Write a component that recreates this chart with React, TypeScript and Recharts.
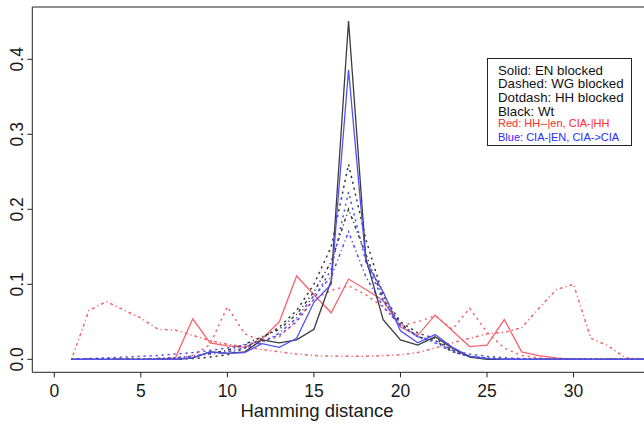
import React from "react";
import { LineChart, Line, XAxis, YAxis, ReferenceLine } from "recharts";

const hamming = [1,2,3,4,5,6,7,8,9,10,11,12,13,14,15,16,17,18,19,20,21,22,23,24,25,26,27,28,29,30,31,32,33,34,35];

const blackSolid =   [0,0,0,0,0,0,0,0.002,0.01,0.008,0.01,0.026,0.022,0.026,0.04,0.105,0.451,0.135,0.053,0.026,0.019,0.03,0.015,0.003,0,0,0,0,0,0,0,0,0,0,0];
const blackDash =    [0,0,0,0,0,0,0,0.001,0.003,0.006,0.015,0.028,0.043,0.065,0.1,0.15,0.26,0.16,0.085,0.05,0.035,0.028,0.012,0.004,0.001,0,0,0,0,0,0,0,0,0,0];
const blackDotdash = [0,0,0,0,0,0.001,0.002,0.004,0.008,0.012,0.02,0.03,0.04,0.06,0.09,0.13,0.2,0.14,0.08,0.048,0.03,0.025,0.01,0.004,0.001,0,0,0,0,0,0,0,0,0,0];
const redSolid =     [0,0,0,0,0,0,0.002,0.054,0.022,0.018,0.016,0.027,0.05,0.111,0.086,0.062,0.107,0.093,0.078,0.043,0.032,0.059,0.038,0.017,0.019,0.053,0.01,0.005,0.002,0,0,0,0,0,0];
const redDash =      [0,0,0,0,0,0,0.001,0.005,0.02,0.07,0.034,0.024,0.03,0.052,0.08,0.092,0.098,0.086,0.07,0.045,0.05,0.058,0.04,0.068,0.036,0.015,0.005,0.002,0,0,0,0,0,0,0];
const redDotdash =   [0,0.065,0.077,0.066,0.055,0.04,0.039,0.032,0.025,0.02,0.017,0.013,0.01,0.007,0.005,0.004,0.004,0.004,0.005,0.006,0.009,0.015,0.022,0.028,0.034,0.036,0.042,0.068,0.093,0.1,0.028,0.018,0.002,0,0];
const blueSolid =    [0,0,0,0,0,0,0,0.002,0.01,0.008,0.009,0.021,0.016,0.028,0.076,0.1,0.386,0.13,0.09,0.038,0.022,0.033,0.016,0.004,0.001,0,0,0,0,0,0,0,0,0,0];
const blueDash =     [0,0.001,0.002,0.003,0.004,0.005,0.007,0.009,0.012,0.015,0.019,0.025,0.032,0.05,0.08,0.12,0.223,0.13,0.078,0.045,0.03,0.025,0.012,0.007,0.004,0.002,0.001,0,0,0,0,0,0,0,0];
const blueDotdash =  [0,0,0,0,0,0.001,0.002,0.004,0.007,0.01,0.015,0.022,0.035,0.055,0.085,0.11,0.17,0.11,0.07,0.045,0.03,0.022,0.01,0.004,0.002,0,0,0,0,0,0,0,0,0,0];

const xTicks = [0, 5, 10, 15, 20, 25, 30];
const yTicks = [0, 0.1, 0.2, 0.3, 0.4];
const xLabel = "Hamming distance";
const legendLines = [
  { text: "Solid: EN blocked", color: "#111", size: 13.3, center: 70.7 },
  { text: "Dashed: WG blocked", color: "#111", size: 13.3, center: 84.3 },
  { text: "Dotdash: HH blocked", color: "#111", size: 13.3, center: 98 },
  { text: "Black: Wt", color: "#111", size: 13.3, center: 111.5 },
  { text: "Red: HH--|en, CIA-|HH", color: "#ff2a2a", size: 11, center: 124 },
  { text: "Blue: CIA-|EN, CIA->CIA", color: "#2a2aff", size: 11, center: 137.5 },
];

const data = hamming.map((h, i) => ({
  h,
  blackSolid: blackSolid[i],
  blackDash: blackDash[i],
  blackDotdash: blackDotdash[i],
  redSolid: redSolid[i],
  redDash: redDash[i],
  redDotdash: redDotdash[i],
  blueSolid: blueSolid[i],
  blueDash: blueDash[i],
  blueDotdash: blueDotdash[i],
}));

const X_MIN = -1.27;
const X_MAX = 34.07;
const Y_MIN = -0.0173;
const Y_MAX = 0.4697;

const BLACK = "#3a3a3a";
const RED = "#f5646e";
const BLUE = "#5050f2";
const DASH = "2.2 3.8";
const DOTDASH = "1.2 3 3 3";

const FONT = "'Liberation Sans', Arial, sans-serif";

const XTick = (props: any) => {
  const { x, payload } = props;
  return (
    <text x={x} y={396.5} textAnchor="middle" fontSize={17.5} fill="#1a1a1a" fontFamily={FONT}>
      {payload.value}
    </text>
  );
};

const YTick = (props: any) => {
  const { y, payload } = props;
  const bx = 23;
  return (
    <text x={bx} y={y} transform={`rotate(-90 ${bx} ${y})`} textAnchor="middle" fontSize={17.5} fill="#1a1a1a" fontFamily={FONT}>
      {payload.value.toFixed(1)}
    </text>
  );
};

const series = [
  { key: "redDotdash", color: RED, dash: DOTDASH },
  { key: "redDash", color: RED, dash: DASH },
  { key: "redSolid", color: RED, dash: undefined },
  { key: "blackDotdash", color: BLACK, dash: DOTDASH },
  { key: "blackDash", color: BLACK, dash: DASH },
  { key: "blueDotdash", color: BLUE, dash: DOTDASH },
  { key: "blueDash", color: BLUE, dash: DASH },
  { key: "blackSolid", color: BLACK, dash: undefined },
  { key: "blueSolid", color: BLUE, dash: undefined },
];

export default function App() {
  return (
    <div style={{ position: "absolute", left: 0, top: 0, width: 644, height: 429, background: "#fff", overflow: "hidden", fontFamily: FONT }}>
      <LineChart width={644} height={429} data={data} margin={{ top: 7, right: 0, bottom: 0, left: 0 }}>
        <XAxis
          dataKey="h"
          type="number"
          domain={[X_MIN, X_MAX]}
          ticks={xTicks}
          allowDataOverflow
          height={56.7}
          tickSize={5}
          tick={<XTick />}
          axisLine={{ stroke: "#222", strokeWidth: 1 }}
          tickLine={{ stroke: "#222", strokeWidth: 1 }}
        />
        <YAxis
          type="number"
          domain={[Y_MIN, Y_MAX]}
          ticks={yTicks}
          allowDataOverflow
          width={32.3}
          tickSize={5}
          tick={<YTick />}
          axisLine={{ stroke: "#222", strokeWidth: 1 }}
          tickLine={{ stroke: "#222", strokeWidth: 1 }}
        />
        <ReferenceLine y={Y_MAX} stroke="#222" strokeWidth={1} />
        {series.map((s) => (
          <Line
            key={s.key}
            dataKey={s.key}
            type="linear"
            stroke={s.color}
            strokeWidth={s.dash ? 1.5 : 1.3}
            strokeDasharray={s.dash}
            dot={false}
            activeDot={false}
            isAnimationActive={false}
          />
        ))}
      </LineChart>
      <div style={{ position: "absolute", left: 317, top: 402, transform: "translateX(-50%)", fontSize: 18.5, color: "#1a1a1a", whiteSpace: "nowrap", lineHeight: "18px" }}>
        {xLabel}
      </div>
      <div style={{ position: "absolute", left: 487, top: 58, width: 143, height: 86, border: "1.3px solid #222", background: "#fff" }}>
        {legendLines.map((l, i) => (
          <div key={i} style={{ position: "absolute", left: 10, top: l.center - 59 - l.size * 0.45, fontSize: l.size, color: l.color, whiteSpace: "nowrap", lineHeight: `${(l.size * 0.9).toFixed(1)}px` }}>
            {l.text}
          </div>
        ))}
      </div>
    </div>
  );
}
